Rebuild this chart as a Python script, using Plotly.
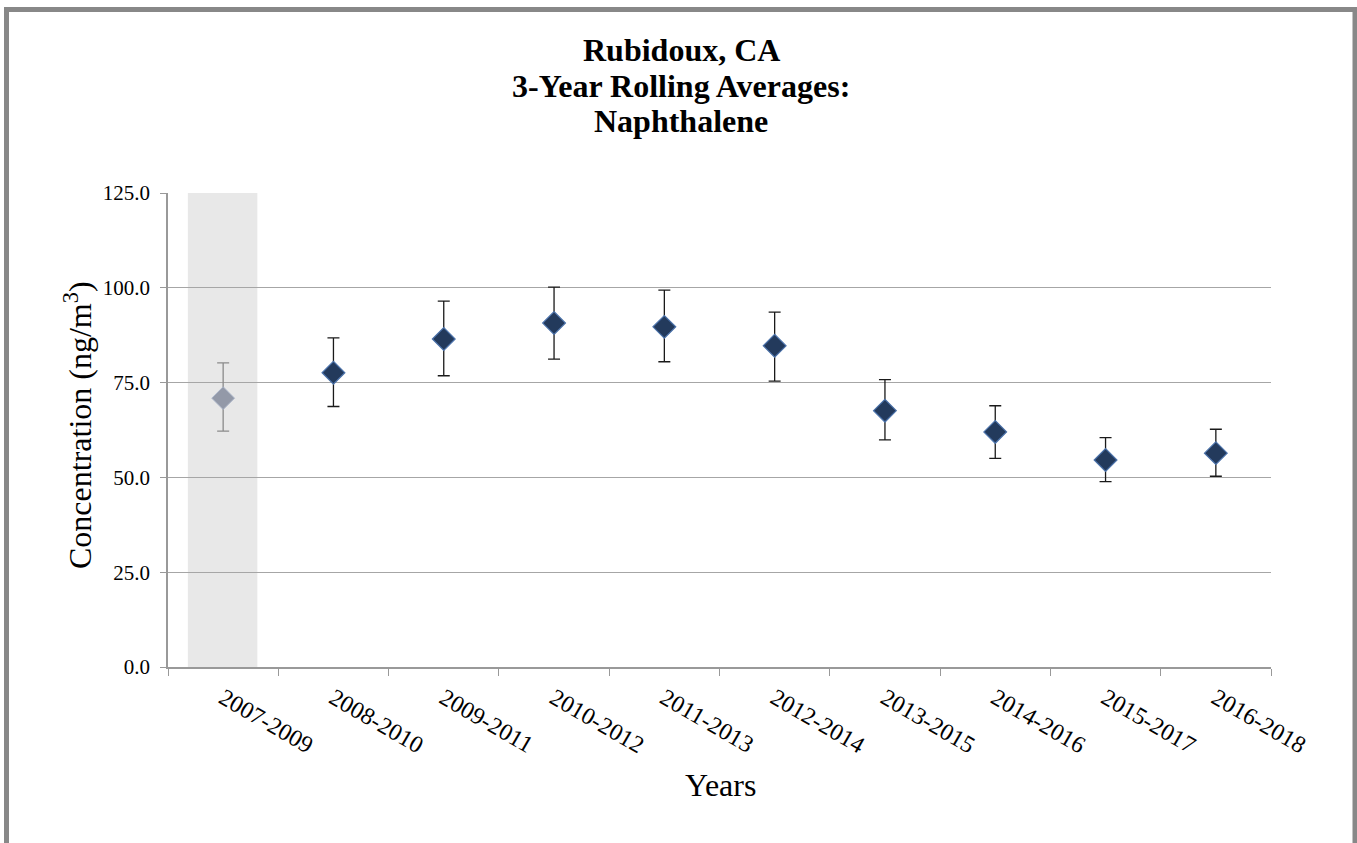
import plotly.graph_objects as go

categories = ["2007-2009", "2008-2010", "2009-2011", "2010-2012", "2011-2013",
              "2012-2014", "2013-2015", "2014-2016", "2015-2017", "2016-2018"]
averages = [70.9, 77.6, 86.5, 90.7, 89.7, 84.7, 67.6, 62.0, 54.6, 56.4]
upper = [80.2, 86.8, 96.5, 100.2, 99.4, 93.6, 75.8, 68.9, 60.5, 62.7]
lower = [62.2, 68.7, 76.8, 81.2, 80.5, 75.4, 59.9, 55.0, 48.9, 50.3]

title_lines = ["Rubidoux, CA", "3-Year Rolling Averages:", "Naphthalene"]
y_ticks = [0, 25, 50, 75, 100, 125]

err_plus = [u - a for u, a in zip(upper, averages)]
err_minus = [a - l for a, l in zip(averages, lower)]

font_family = "Liberation Serif, Times New Roman, serif"

W, H = 1357, 843
L, R, T, B = 168, 1271, 193, 667  # plot area in pixels


def px_x(px):
    return (px - L) / (R - L)


def px_y(py):
    return (B - py) / (B - T)


fig = go.Figure()

# first (greyed-out) period
fig.add_trace(go.Scatter(
    x=categories[:1], y=averages[:1], mode="markers",
    marker=dict(symbol="diamond", size=17.5, color="#9399a8",
                line=dict(color="#aab4c8", width=1)),
    error_y=dict(type="data", symmetric=False, array=err_plus[:1],
                 arrayminus=err_minus[:1], color="#8a8a8a", thickness=1.3, width=6),
    showlegend=False,
))
# remaining periods
fig.add_trace(go.Scatter(
    x=categories[1:], y=averages[1:], mode="markers",
    marker=dict(symbol="diamond", size=17.5, color="#233a5c",
                line=dict(color="#4b72aa", width=1.2)),
    error_y=dict(type="data", symmetric=False, array=err_plus[1:],
                 arrayminus=err_minus[1:], color="#1a1a1a", thickness=1.3, width=6),
    showlegend=False,
))

shapes = [
    dict(type="rect", xref="x", yref="y", x0=-0.32, x1=0.31, y0=0, y1=125.8,
         fillcolor="#e8e8e8", line=dict(width=0), layer="below"),
    dict(type="rect", xref="paper", yref="paper",
         x0=px_x(6.5), x1=px_x(1355), y0=px_y(900), y1=px_y(9.5),
         line=dict(color="#888888", width=5), fillcolor="rgba(0,0,0,0)"),
]

annotations = []
for line, cy in zip(title_lines, [50, 86, 121]):
    annotations.append(dict(
        text=f"<b>{line}</b>", xref="paper", yref="paper",
        x=px_x(681), y=px_y(cy), xanchor="center", yanchor="middle",
        showarrow=False, font=dict(size=32, family=font_family, color="black"),
    ))
annotations.append(dict(
    text="Years", xref="paper", yref="paper", x=px_x(720), y=px_y(785),
    xanchor="center", yanchor="middle", showarrow=False,
    font=dict(size=32, family=font_family, color="black"),
))
annotations.append(dict(
    text="Concentration (ng/m<sup>3</sup>)", xref="paper", yref="paper",
    x=px_x(78), y=px_y(425), xanchor="center", yanchor="middle", textangle=-90,
    showarrow=False, font=dict(size=32, family=font_family, color="black"),
))

fig.update_layout(
    width=W, height=H,
    margin=dict(l=L, r=W - R, t=T, b=H - B),
    paper_bgcolor="white", plot_bgcolor="rgba(0,0,0,0)",
    font=dict(family=font_family, color="black"),
    shapes=shapes,
    annotations=annotations,
    xaxis=dict(
        type="category", categoryorder="array", categoryarray=categories,
        range=[-0.5, 9.5], tickson="boundaries", ticks="outside", ticklen=7,
        tickcolor="#999999", tickangle=30, ticklabelstandoff=6,
        tickfont=dict(size=24, family=font_family, color="black"),
        showline=True, linecolor="#999999", linewidth=1.5, showgrid=False,
        zeroline=False,
    ),
    yaxis=dict(
        range=[0, 125], tickvals=y_ticks, ticktext=[f"{v:.1f}" for v in y_ticks],
        ticks="outside", ticklen=6, tickcolor="#999999", ticklabelstandoff=6,
        tickfont=dict(size=21, family=font_family, color="black"),
        showline=True, linecolor="#999999", linewidth=1.5,
        showgrid=True, gridcolor="#a6a6a6", gridwidth=1.3, zeroline=False,
    ),
)

fig.write_html("out.html", config={"displayModeBar": False},
               post_script="document.body.style.margin='0';")
